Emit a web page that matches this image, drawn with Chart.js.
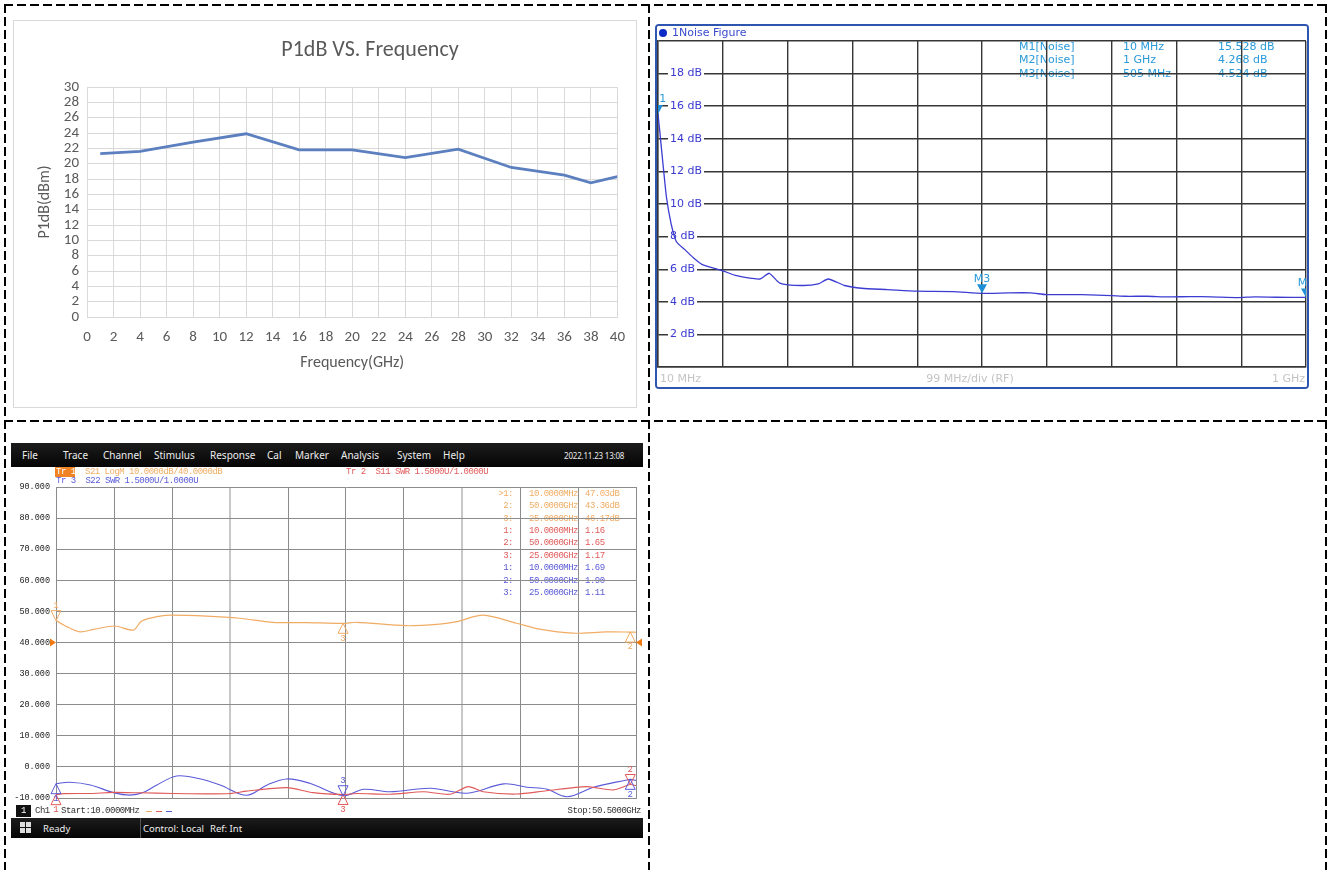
<!DOCTYPE html>
<html>
<head>
<meta charset="utf-8">
<script src="https://cdn.jsdelivr.net/npm/chart.js@4.4.1/dist/chart.umd.min.js"></script>
<style>
body { margin: 0; background: #fff; width: 1332px; height: 870px; overflow: hidden; position: relative; font-family: "Noto Sans", sans-serif; }
.dash-h { position: absolute; height: 2px; background: repeating-linear-gradient(to right, #000 0 9px, transparent 9px 13px); }
.dash-v { position: absolute; width: 2px; background: repeating-linear-gradient(to bottom, #000 0 9px, transparent 9px 13px); }
#p1Box { position: absolute; left: 13px; top: 20px; width: 622px; height: 386px; border: 1px solid #d9d9d9; }
#nfBox { position: absolute; left: 655px; top: 24px; width: 650px; height: 361px; border: 2px solid #2e56b0; border-radius: 4px; overflow: hidden; }
#vnaMenu, #vnaStatus { position: absolute; left: 11px; width: 632px; background: linear-gradient(#1c1c1c, #050505); color: #ececec; font-size: 10px; }
#vnaMenu { top: 443px; height: 24px; }
#vnaStatus { top: 818px; height: 20px; font-size: 9.5px; }
#vnaMenu span, #vnaStatus span { position: absolute; top: 50%; transform: translateY(-50%); white-space: nowrap; }
#vnaCanvas { position: absolute; left: 11px; top: 467px; }
.sq { position: absolute; width: 5px; height: 5px; background: #ddd; }
</style>
</head>
<body>
<div class="dash-h" style="left:4px; top:4px; width:1323px"></div>
<div class="dash-h" style="left:4px; top:420px; width:1323px"></div>
<div class="dash-v" style="left:4px; top:4px; height:866px"></div>
<div class="dash-v" style="left:648px; top:4px; height:866px"></div>
<div class="dash-v" style="left:1325px; top:4px; height:866px"></div>

<div id="p1Box"><canvas id="p1Chart" width="622" height="386"></canvas></div>
<div id="nfBox"><canvas id="nfChart" width="650" height="361"></canvas></div>

<div id="vnaMenu">
  <span style="left:11px">File</span>
  <span style="left:52px">Trace</span>
  <span style="left:92px">Channel</span>
  <span style="left:143px">Stimulus</span>
  <span style="left:199px">Response</span>
  <span style="left:256px">Cal</span>
  <span style="left:284px">Marker</span>
  <span style="left:330px">Analysis</span>
  <span style="left:386px">System</span>
  <span style="left:432px">Help</span>
  <span style="left:553px; font-size:8px; letter-spacing:-0.2px">2022.11.23 13:08</span>
</div>
<canvas id="vnaCanvas" width="632" height="351"></canvas>
<div id="vnaStatus">
  <div class="sq" style="left:9px; top:4px"></div>
  <div class="sq" style="left:15px; top:4px"></div>
  <div class="sq" style="left:9px; top:10px"></div>
  <div class="sq" style="left:15px; top:10px"></div>
  <span style="left:32px">Ready</span>
  <div style="position:absolute; left:129px; top:0; width:1px; height:20px; background:#555"></div>
  <span style="left:132px">Control: Local</span>
  <span style="left:199px">Ref: Int</span>
</div>

<script>
// ---- P1dB vs frequency (Excel style) ----
const p1Freq = [1, 4, 8, 12, 16, 20, 24, 28, 32, 36, 38, 40];
const p1Value = [21.3, 21.6, 22.8, 23.9, 21.8, 21.8, 20.8, 21.9, 19.5, 18.5, 17.5, 18.3];

// ---- Noise figure, 10 MHz .. 1 GHz ----
const nfFreq = [10, 12.6, 18, 23, 30, 38, 51, 64, 77, 109, 130, 166, 180, 196, 229, 255, 270, 295, 321, 361,
    405, 460, 505, 546, 579, 603, 632, 658, 703, 724, 757, 790, 823, 856, 896, 922, 955, 1000];
const nfValue = [15.53, 14.5, 12.3, 10.4, 8.8, 7.7, 7.2, 6.7, 6.3, 5.9, 5.6, 5.4, 5.75, 5.15, 5.0, 5.1, 5.4, 5.0, 4.83, 4.75,
    4.65, 4.63, 4.52, 4.55, 4.55, 4.44, 4.44, 4.44, 4.38, 4.34, 4.34, 4.3, 4.32, 4.3, 4.26, 4.3, 4.28, 4.27];
const nfMkName = ['M1[Noise]', 'M2[Noise]', 'M3[Noise]'];
const nfMkFreqLabel = ['10 MHz', '1 GHz', '505 MHz'];
const nfMkFreq = [10, 1000, 505];
const nfMkValue = [15.528, 4.268, 4.524];
const nfMkValueLabel = ['15.528 dB', '4.268 dB', '4.524 dB'];

// ---- VNA: S21 (dB), S11 / S22 (SWR), 10 MHz .. 50.5 GHz ----
const s21Freq = [0.01, 0.94, 2.1, 3.26, 5.14, 6.74, 7.47, 9.06, 10.08, 13.1, 16.0, 18.9, 21.8, 25.0, 26.2, 30.5, 33.4, 34.9, 37.2, 40.1, 42.1, 45.0, 47.9, 50.0, 50.5];
const s21Value = [47.03, 45.1, 43.4, 44.2, 45.3, 44.0, 46.9, 48.5, 48.8, 48.5, 47.8, 46.5, 46.4, 46.17, 46.5, 45.4, 45.9, 46.7, 48.8, 46.2, 44.3, 43.0, 43.4, 43.36, 43.3];
const s11Freq = [0.01, 0.65, 3.0, 5.0, 7.3, 10.2, 13.1, 15.2, 16.6, 20.1, 22.4, 25.0, 26.2, 29.1, 32.0, 34.3, 35.9, 37.2, 40.1, 42.7, 46.2, 48.5, 50.0, 50.5];
const s11Swr = [1.16, 1.21, 1.22, 1.27, 1.25, 1.22, 1.2, 1.22, 1.33, 1.5, 1.26, 1.17, 1.22, 1.18, 1.3, 1.18, 1.55, 1.3, 1.19, 1.35, 1.55, 1.39, 1.65, 1.6];
const s22Freq = [0.01, 1.2, 3.0, 5.0, 6.45, 7.6, 8.8, 10.5, 12.3, 14.3, 16.6, 18.4, 20.1, 22.1, 25.0, 26.8, 29.1, 32.6, 35.8, 39.0, 41.0, 42.7, 44.5, 46.8, 49.7, 50.0, 50.5];
const s22Swr = [1.69, 1.76, 1.63, 1.26, 1.14, 1.26, 1.63, 2.06, 1.95, 1.63, 1.13, 1.63, 1.92, 1.71, 1.11, 1.42, 1.3, 1.47, 1.23, 1.68, 1.52, 1.43, 1.06, 1.52, 1.87, 1.9, 1.85];
const mkNum = ['1', '2', '3'];
const mkFreqLabel = ['10.0000MHz', '50.0000GHz', '25.0000GHz'];
const mkFreq = [0.01, 50, 25];
const s21Mk = [47.03, 43.36, 46.17];
const s11Mk = [1.16, 1.65, 1.17];
const s22Mk = [1.69, 1.90, 1.11];

function pts(xs, ys) {
    return xs.map(function (x, i) { return { x: x, y: ys[i] }; });
}

const gray = '#595959';
const excelFont = 'Carlito, Lato, sans-serif';

new Chart(document.getElementById('p1Chart'), {
    type: 'line',
    data: {
        datasets: [{
            data: pts(p1Freq, p1Value),
            borderColor: '#5b7fbf',
            borderWidth: 2.8,
            pointRadius: 0,
            tension: 0
        }]
    },
    options: {
        responsive: false,
        animation: false,
        layout: { padding: { left: 0, right: 15, top: 66, bottom: 0 } },
        plugins: { legend: { display: false }, tooltip: { enabled: false } },
        scales: {
            x: {
                type: 'linear', min: 0, max: 40,
                ticks: { stepSize: 2, autoSkip: false, maxRotation: 0, color: gray, padding: 11, font: { family: excelFont, size: 15 } },
                grid: { color: '#d9d9d9', drawTicks: false },
                border: { color: '#d9d9d9' },
                title: { display: true, text: 'Frequency(GHz)', color: gray, font: { family: excelFont, size: 16 }, padding: { bottom: 34 } },
                afterFit: function (s) { s.height = 90; }
            },
            y: {
                min: 0, max: 30,
                ticks: { stepSize: 2, autoSkip: false, color: gray, padding: 8, font: { family: excelFont, size: 15 } },
                grid: { color: '#d9d9d9', drawTicks: false },
                border: { color: '#d9d9d9' },
                title: { display: true, text: 'P1dB(dBm)', color: gray, font: { family: excelFont, size: 16 }, padding: { top: 21 } },
                afterFit: function (s) { s.width = 73; }
            }
        }
    },
    plugins: [{
        id: 'p1Title',
        afterDraw: function (chart) {
            const ctx = chart.ctx;
            ctx.save();
            ctx.font = '22px ' + excelFont;
            ctx.fillStyle = gray;
            ctx.textAlign = 'center';
            ctx.textBaseline = 'middle';
            ctx.fillText('P1dB VS. Frequency', 356, 29);
            ctx.restore();
        }
    }]
});

// noise figure screen
const nfBlue = '#3a3ad0';
const nfCyan = '#2a9ad8';
const nfFont = '11px "DejaVu Sans"';

new Chart(document.getElementById('nfChart'), {
    type: 'line',
    data: {
        datasets: [{
            data: pts(nfFreq, nfValue),
            borderColor: '#3c3cd2',
            borderWidth: 1.3,
            pointRadius: 0,
            tension: 0.2
        }]
    },
    options: {
        responsive: false,
        animation: false,
        layout: { padding: { left: 1, right: 1, top: 15, bottom: 20 } },
        plugins: { legend: { display: false }, tooltip: { enabled: false } },
        scales: {
            x: {
                type: 'linear', min: 10, max: 1000,
                ticks: { stepSize: 99, display: false },
                grid: { color: '#363636', lineWidth: 1.4, drawTicks: false },
                border: { color: '#363636', width: 1.4 },
                afterFit: function (s) { s.height = 0; s.paddingLeft = 0; s.paddingRight = 0; }
            },
            y: {
                min: 0, max: 20,
                ticks: {
                    stepSize: 2, mirror: true, padding: 12, color: nfBlue,
                    font: { family: 'DejaVu Sans', size: 11 },
                    showLabelBackdrop: function (c) { return c.tick.value > 0 && c.tick.value < 20; },
                    backdropColor: '#fff',
                    backdropPadding: { x: 2, y: 1 },
                    callback: function (v) { return (v > 0 && v < 20) ? v + ' dB' : ''; }
                },
                grid: { color: '#363636', lineWidth: 1.4, drawTicks: false },
                border: { color: '#363636', width: 1.4 },
                afterFit: function (s) { s.width = 0; s.paddingTop = 0; s.paddingBottom = 0; }
            }
        }
    },
    plugins: [{
        id: 'nfDecor',
        beforeDraw: function (chart) {
            const ctx = chart.ctx;
            ctx.save();
            ctx.fillStyle = '#fff';
            ctx.fillRect(0, 0, chart.width, chart.height);
            ctx.fillStyle = '#0b2bc4';
            ctx.beginPath();
            ctx.arc(6, 7, 4, 0, Math.PI * 2);
            ctx.fill();
            ctx.font = nfFont;
            ctx.textBaseline = 'middle';
            ctx.fillStyle = '#3a4ccc';
            ctx.fillText('1Noise Figure', 15, 7);
            ctx.fillStyle = nfCyan;
            nfMkName.forEach(function (n, i) {
                const y = 21 + i * 13.5;
                ctx.fillText(n, 362, y);
                ctx.fillText(nfMkFreqLabel[i], 466, y);
                ctx.fillText(nfMkValueLabel[i], 561, y);
            });
            ctx.fillStyle = '#c4c4c4';
            ctx.fillText('10 MHz', 3, 353);
            ctx.textAlign = 'center';
            ctx.fillText('99 MHz/div (RF)', 313, 353);
            ctx.textAlign = 'right';
            ctx.fillText('1 GHz', 648, 353);
            ctx.restore();
        },
        afterDatasetsDraw: function (chart) {
            const ctx = chart.ctx, a = chart.chartArea;
            const x = chart.scales.x, y = chart.scales.y;
            ctx.save();
            ctx.beginPath();
            ctx.rect(a.left, a.top, a.right - a.left, a.bottom - a.top);
            ctx.clip();
            ctx.font = nfFont;
            ctx.textAlign = 'center';
            ctx.textBaseline = 'bottom';
            nfMkFreq.forEach(function (f, i) {
                const px = x.getPixelForValue(f), py = y.getPixelForValue(nfMkValue[i]);
                ctx.fillStyle = '#1e8fd6';
                ctx.beginPath();
                ctx.moveTo(px, py);
                ctx.lineTo(px - 5, py - 9);
                ctx.lineTo(px + 5, py - 9);
                ctx.closePath();
                ctx.fill();
                ctx.fillStyle = nfCyan;
                ctx.fillText('M' + (i + 1), px, py - 9);
            });
            ctx.restore();
        }
    }]
});

// network analyser screen
const cOrange = '#f0ac64';
const cRed = '#e05a5a';
const cBlue = '#5a5ad8';
const monoFont = '"Liberation Mono", monospace';

const vnaTraces = [
    { vals: s21Mk, axis: 'y', color: cOrange, up: [false, true, true] },
    { vals: s11Mk, axis: 'ySwr', color: cRed, up: [true, false, true] },
    { vals: s22Mk, axis: 'ySwr', color: cBlue, up: [true, true, false] }
];

function monoText(ctx, txt, x, y, color) {
    ctx.fillStyle = color;
    ctx.fillText(txt, x, y);
}

new Chart(document.getElementById('vnaCanvas'), {
    type: 'line',
    data: {
        datasets: [
            { data: pts(s21Freq, s21Value), yAxisID: 'y', borderColor: cOrange, borderWidth: 1.2, pointRadius: 0, tension: 0.3 },
            { data: pts(s11Freq, s11Swr), yAxisID: 'ySwr', borderColor: cRed, borderWidth: 1.1, pointRadius: 0, tension: 0.25 },
            { data: pts(s22Freq, s22Swr), yAxisID: 'ySwr', borderColor: cBlue, borderWidth: 1.1, pointRadius: 0, tension: 0.35 }
        ]
    },
    options: {
        responsive: false,
        animation: false,
        layout: { padding: { left: 0, right: 7, top: 20, bottom: 20 } },
        plugins: { legend: { display: false }, tooltip: { enabled: false } },
        scales: {
            x: {
                type: 'linear', min: 0.01, max: 50.5,
                ticks: { stepSize: 5.049, display: false },
                grid: {
                    drawTicks: false,
                    color: function (c) { return (c.index === 3 || c.index === 7) ? '#c8c8c8' : '#8c8c8c'; },
                    lineWidth: function (c) { return (c.index === 3 || c.index === 7) ? 2 : 1; }
                },
                border: { color: '#8c8c8c' },
                afterFit: function (s) { s.height = 0; }
            },
            y: {
                min: -10, max: 90,
                ticks: { stepSize: 10, padding: 6, color: '#222', font: { family: 'Liberation Mono', size: 8.5 },
                    callback: function (v) { return v.toFixed(3); } },
                grid: { color: '#8c8c8c', drawTicks: false },
                border: { color: '#8c8c8c' },
                afterFit: function (s) { s.width = 45; }
            },
            ySwr: { min: 1, max: 16, display: false }
        }
    },
    plugins: [{
        id: 'vnaDecor',
        beforeDraw: function (chart) {
            const ctx = chart.ctx;
            ctx.save();
            ctx.fillStyle = '#fff';
            ctx.fillRect(0, 0, chart.width, chart.height);
            ctx.font = '9px ' + monoFont;
            if ('letterSpacing' in ctx) ctx.letterSpacing = '-0.5px';
            ctx.textBaseline = 'middle';
            // trace headers
            ctx.fillStyle = '#f08424';
            ctx.fillRect(44, 0, 20, 10);
            monoText(ctx, 'Tr 1', 45, 5, '#fff');
            monoText(ctx, 'S21 LogM 10.0000dB/40.0000dB', 74, 5, cOrange);
            monoText(ctx, 'Tr 2  S11 SWR 1.5000U/1.0000U', 335, 5, cRed);
            monoText(ctx, 'Tr 3  S22 SWR 1.5000U/1.0000U', 45, 14, cBlue);
            // marker table
            let row = 0;
            vnaTraces.forEach(function (t, ti) {
                const fmt = ti === 0 ? function (v) { return v.toFixed(2) + 'dB'; } : function (v) { return v.toFixed(2); };
                mkNum.forEach(function (n, i) {
                    const y = 26.5 + row * 12.4;
                    ctx.textAlign = 'right';
                    monoText(ctx, (row === 0 ? '>' : '') + n + ':', 502, y, t.color);
                    ctx.textAlign = 'left';
                    monoText(ctx, mkFreqLabel[i], 518, y, t.color);
                    monoText(ctx, fmt(t.vals[i]), 574, y, t.color);
                    row++;
                });
            });
            // channel line
            ctx.fillStyle = '#111';
            ctx.fillRect(5, 338, 15, 12);
            monoText(ctx, '1', 10, 344, '#fff');
            monoText(ctx, 'Ch1', 24, 344, '#333');
            monoText(ctx, 'Start:10.0000MHz', 50, 344, '#333');
            [cOrange, cRed, cBlue].forEach(function (c, i) {
                ctx.fillStyle = c;
                ctx.fillRect(135 + i * 10, 344, 6, 1);
            });
            ctx.textAlign = 'right';
            monoText(ctx, 'Stop:50.5000GHz', 630, 344, '#333');
            ctx.restore();
        },
        afterDatasetsDraw: function (chart) {
            const ctx = chart.ctx, a = chart.chartArea, x = chart.scales.x;
            ctx.save();
            // reference level arrows
            const ry = chart.scales.y.getPixelForValue(40);
            ctx.fillStyle = '#f07a10';
            ctx.beginPath();
            ctx.moveTo(a.left - 6, ry - 4); ctx.lineTo(a.left, ry); ctx.lineTo(a.left - 6, ry + 4); ctx.closePath(); ctx.fill();
            ctx.beginPath();
            ctx.moveTo(a.right + 6, ry - 4); ctx.lineTo(a.right, ry); ctx.lineTo(a.right + 6, ry + 4); ctx.closePath(); ctx.fill();
            // markers
            ctx.font = '9px ' + monoFont;
            ctx.textAlign = 'center';
            ctx.textBaseline = 'middle';
            ctx.lineWidth = 1;
            vnaTraces.forEach(function (t) {
                const sc = chart.scales[t.axis];
                mkFreq.forEach(function (f, i) {
                    const px = x.getPixelForValue(f), py = sc.getPixelForValue(t.vals[i]);
                    const d = t.up[i] ? 1 : -1;
                    ctx.strokeStyle = t.color;
                    ctx.beginPath();
                    ctx.moveTo(px, py);
                    ctx.lineTo(px - 5, py + d * 10);
                    ctx.lineTo(px + 5, py + d * 10);
                    ctx.closePath();
                    ctx.stroke();
                    ctx.fillStyle = t.color;
                    ctx.fillText(mkNum[i], px, py + d * 15);
                });
            });
            ctx.restore();
        }
    }]
});
</script>
</body>
</html>
